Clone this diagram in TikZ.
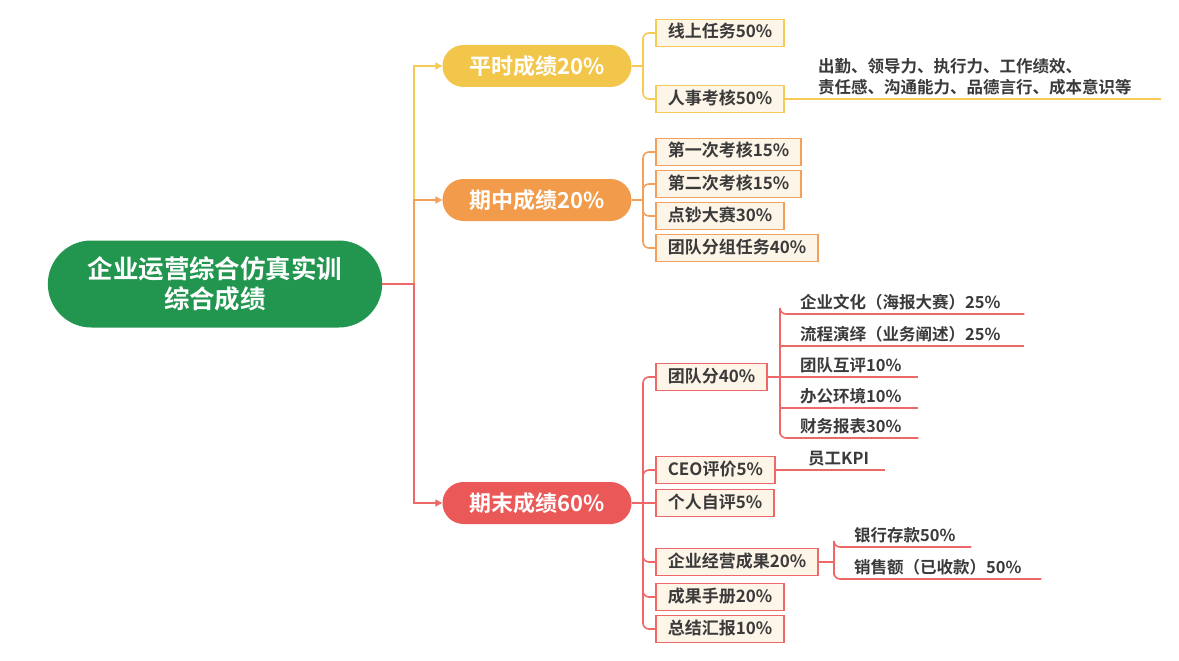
\documentclass[tikz,border=0pt]{standalone}
\usepackage{fontspec}
\setmainfont{Noto Sans CJK SC}[BoldFont={Noto Sans CJK SC Bold}]
\usetikzlibrary{shapes.misc,arrows.meta}
\definecolor{rootgreen}{HTML}{22964F}
\definecolor{ylw}{HTML}{F2C54B}
\definecolor{org}{HTML}{F29B4B}
\definecolor{rd}{HTML}{EB5858}
\definecolor{ylwline}{HTML}{F5CB55}
\definecolor{orgline}{HTML}{F4A05A}
\definecolor{rdline}{HTML}{EE6868}
\definecolor{cream}{HTML}{FDF5E8}
\definecolor{txt}{HTML}{3A3A3A}
\tikzset{
    rootbox/.style={rounded rectangle, fill=rootgreen, text=white, align=center,
        font=\bfseries\fontsize{25.5}{30}\selectfont, minimum width=341, minimum height=87},
    pill/.style={rounded rectangle, fill=#1, text=white, inner sep=0,
        font=\bfseries\fontsize{22}{25}\selectfont, minimum width=189, minimum height=42},
    item/.style={anchor=west, rectangle, fill=cream, draw=#1, line width=1.6, text=txt,
        font=\bfseries\fontsize{17}{20}\selectfont, minimum height=27,
        inner xsep=12, inner ysep=0, text height=13, text depth=3},
    leaf/.style={anchor=south west, text width=#1, align=left, inner xsep=20, inner ysep=4,
        text=txt, font=\bfseries\fontsize{16.5}{21}\selectfont},
    link/.style={draw=#1, line width=1.6},
    tip/.style={-{Triangle[length=7pt,width=7pt]}},
}
\begin{document}
\begin{tikzpicture}[x=1pt,y=-1pt]
    \fill[white] (0,0) rectangle (1179,661);

    \node[rootbox] (root) at (215,284) {企业运营综合仿真实训\\综合成绩};
    \node[pill=ylw] (pingshi) at (537,66) {平时成绩20\%};
    \node[pill=org] (qizhong) at (537,200) {期中成绩20\%};
    \node[pill=rd] (qimo) at (537,503) {期末成绩60\%};

    \coordinate (rj) at (414,284);
    \draw[link=ylwline, tip] (root.east) -- (rj) |- (pingshi.west);
    \draw[link=orgline, tip] (root.east) -- (rj) |- (qizhong.west);
    \draw[link=rdline, tip] (root.east) -- (rj) |- (qimo.west);

    \node[item=ylwline] (xianshang) at (655,33) {线上任务50\%};
    \node[item=ylwline] (renshi) at (655,99) {人事考核50\%};
    \node[leaf=323] (renshid) at (798,99) {出勤、领导力、执行力、工作绩效、\\责任感、沟通能力、品德言行、成本意识等};

    \coordinate (pj) at (643,66);
    \draw[link=ylwline] (pingshi.east) -- (pj);
    \draw[link=ylwline, rounded corners=6] (pj) |- (xianshang.west);
    \draw[link=ylwline, rounded corners=6] (pj) |- (renshi.west);
    \draw[link=ylwline] (renshi.east) -- (renshid.south west) -- (renshid.south east);

    \node[item=orgline] (kh1) at (655,152) {第一次考核15\%};
    \node[item=orgline] (kh2) at (655,184) {第二次考核15\%};
    \node[item=orgline] (dianchao) at (655,216) {点钞大赛30\%};
    \node[item=orgline] (tuandui) at (655,248) {团队分组任务40\%};

    \coordinate (oj) at (643,200);
    \draw[link=orgline] (qizhong.east) -- (oj);
    \draw[link=orgline, rounded corners=6] (oj) |- (kh1.west);
    \draw[link=orgline, rounded corners=6] (oj) |- (kh2.west);
    \draw[link=orgline, rounded corners=6] (oj) |- (dianchao.west);
    \draw[link=orgline, rounded corners=6] (oj) |- (tuandui.west);

    \node[item=rdline] (tdf) at (655,377) {团队分40\%};
    \node[item=rdline] (ceo) at (655,470) {CEO评价5\%};
    \node[item=rdline] (ziping) at (655,503) {个人自评5\%};
    \node[item=rdline] (jingying) at (655,562) {企业经营成果20\%};
    \node[item=rdline] (shouce) at (655,597) {成果手册20\%};
    \node[item=rdline] (huibao) at (655,629) {总结汇报10\%};

    \coordinate (mj) at (643,503);
    \draw[link=rdline] (qimo.east) -- (mj);
    \draw[link=rdline, rounded corners=6] (mj) |- (tdf.west);
    \draw[link=rdline, rounded corners=6] (mj) |- (ceo.west);
    \draw[link=rdline] (mj) -- (ziping.west);
    \draw[link=rdline, rounded corners=6] (mj) |- (jingying.west);
    \draw[link=rdline, rounded corners=6] (mj) |- (shouce.west);
    \draw[link=rdline, rounded corners=6] (mj) |- (huibao.west);

    \node[leaf=204] (wenhua) at (780,314) {企业文化（海报大赛）25\%};
    \node[leaf=204] (yanyi) at (780,346) {流程演绎（业务阐述）25\%};
    \node[leaf=98] (huping) at (780,377) {团队互评10\%};
    \node[leaf=98] (huanjing) at (780,408) {办公环境10\%};
    \node[leaf=98] (baobiao) at (780,438) {财务报表30\%};

    \draw[link=rdline] (tdf.east) -- (huping.south west);
    \draw[link=rdline, rounded corners=6] (huping.south west) |- (wenhua.south west) -- (wenhua.south east);
    \draw[link=rdline] (huping.south west) -- (yanyi.south west) -- (yanyi.south east);
    \draw[link=rdline] (huping.south west) -- (huping.south east);
    \draw[link=rdline] (huping.south west) -- (huanjing.south west) -- (huanjing.south east);
    \draw[link=rdline, rounded corners=6] (huping.south west) |- (baobiao.south west) -- (baobiao.south east);

    \node[leaf=57] (kpi) at (788,470) {员工KPI};
    \draw[link=rdline] (ceo.east) -- (kpi.south west) -- (kpi.south east);

    \node[leaf=97] (cunkuan) at (834,547) {银行存款50\%};
    \node[leaf=167] (xiaoshou) at (834,579) {销售额（已收款）50\%};
    \coordinate (ej) at (834,562);
    \draw[link=rdline] (jingying.east) -- (ej);
    \draw[link=rdline, rounded corners=6] (ej) |- (cunkuan.south west) -- (cunkuan.south east);
    \draw[link=rdline, rounded corners=6] (ej) |- (xiaoshou.south west) -- (xiaoshou.south east);
\end{tikzpicture}
\end{document}
